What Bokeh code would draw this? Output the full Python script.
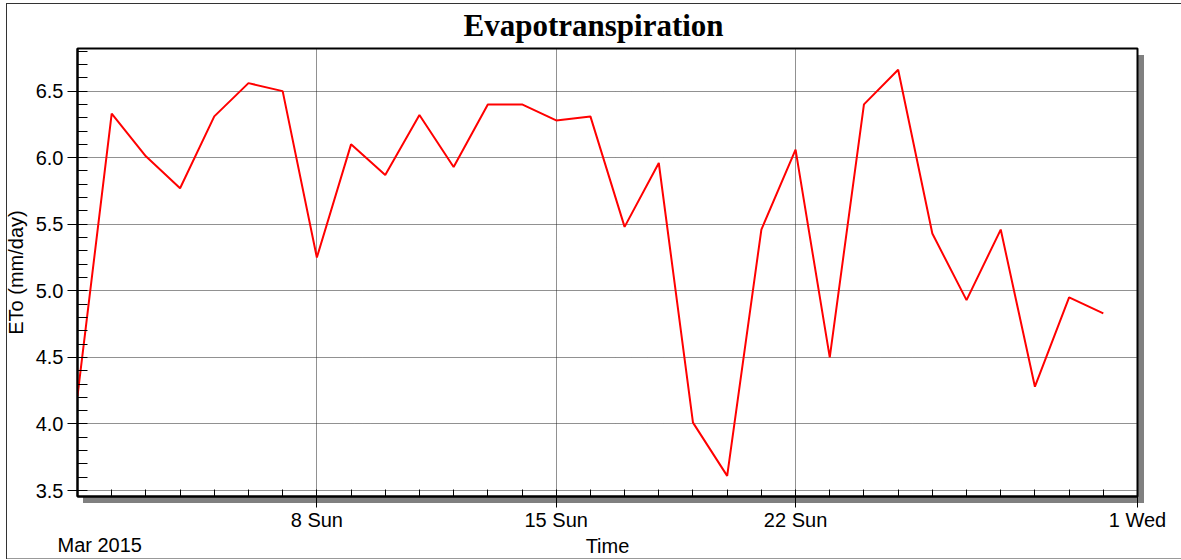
import pandas as pd
from bokeh.plotting import figure
from bokeh.models import (Range1d, FixedTicker, SingleIntervalTicker, Title,
                          ColumnDataSource, PrintfTickFormatter)
from bokeh.embed import file_html
from bokeh.resources import INLINE

# ---- data -------------------------------------------------------------
dates = pd.date_range("2015-03-01", "2015-03-31", freq="D")
eto = [4.21, 6.33, 6.01, 5.77, 6.31, 6.56, 6.50, 5.25, 6.10, 5.87,
       6.32, 5.93, 6.40, 6.40, 6.28, 6.31, 5.48, 5.96, 4.01, 3.61,
       5.46, 6.06, 4.50, 6.40, 6.66, 5.43, 4.93, 5.46, 4.28, 4.95, 4.83]

x_start, x_end = "2015-03-01", "2015-04-01"
major_tick_dates = ["2015-03-08", "2015-03-15", "2015-03-22", "2015-04-01"]
major_tick_labels = ["8 Sun", "15 Sun", "22 Sun", "1 Wed"]
minor_tick_dates = pd.date_range(x_start, x_end, freq="D")
y_start, y_end = 3.455, 6.82
title_text = "Evapotranspiration"
x_label = "Time"
y_label = "ETo (mm/day)"
period_label = "Mar 2015"


def ms(d):
    return pd.Timestamp(d).value / 1e6


# ---- figure -----------------------------------------------------------
W, H = 1181, 560
ML, MR, MT, MB = 77, 44, 48, 64

p = figure(width=W, height=H, x_axis_type="datetime",
           x_range=Range1d(ms(x_start), ms(x_end)),
           y_range=Range1d(y_start, y_end),
           output_backend="svg", toolbar_location=None,
           min_border_left=ML, min_border_right=MR,
           min_border_top=MT, min_border_bottom=MB)

# page frame lines and the drop shadow of the plot area (CSS backdrop)
layers = [
    ("#808080", "6px 448px", f"{W - MR + 1}px {MT + 7}px"),      # shadow right
    ("#808080", f"{W - ML - MR + 1}px 6px", f"{ML + 6}px {H - MB + 1}px"),  # shadow bottom
    ("#333333", "1px 556px", "6px 3px"),                          # outer left
    ("#333333", "1176px 1px", "6px 3px"),                          # outer top
    ("#999999", "1176px 1px", "6px 558px"),                        # outer bottom
]
p.styles = {
    "background-color": "white",
    "background-image": ", ".join(f"linear-gradient({c}, {c})" for c, _, _ in layers),
    "background-size": ", ".join(s for _, s, _ in layers),
    "background-position": ", ".join(pos for _, _, pos in layers),
    "background-repeat": "no-repeat",
}
p.border_fill_color = None
p.background_fill_color = "white"
p.outline_line_color = "black"
p.outline_line_width = 2

src = ColumnDataSource(dict(date=dates, eto=eto))
p.line("date", "eto", source=src, line_color="#ff0000", line_width=2)

# title
p.title.text = title_text
p.title.align = "left"
p.title.offset = 386
p.title.standoff = 11
p.title.text_font = "Liberation Serif"
p.title.text_font_style = "bold"
p.title.text_font_size = "31px"
p.title.text_color = "black"

# x axis
p.xaxis.ticker = FixedTicker(ticks=[ms(d) for d in major_tick_dates],
                             minor_ticks=[ms(d) for d in minor_tick_dates])
p.xaxis.major_label_overrides = {ms(d): l for d, l in zip(major_tick_dates, major_tick_labels)}
p.xaxis.major_tick_out = 11
p.xaxis.major_tick_in = 0
p.xaxis.minor_tick_in = 7
p.xaxis.minor_tick_out = 0
p.xaxis.major_label_standoff = 1
p.xaxis.axis_label = x_label
p.xaxis.axis_label_standoff = 1

# y axis
p.yaxis.ticker = SingleIntervalTicker(interval=0.5, num_minor_ticks=5)
p.yaxis.formatter = PrintfTickFormatter(format="%.1f")
p.yaxis.major_tick_out = 10
p.yaxis.major_tick_in = 0
p.yaxis.minor_tick_in = 10
p.yaxis.minor_tick_out = 0
p.yaxis.major_label_standoff = 4
p.yaxis.axis_label = y_label
p.yaxis.axis_label_standoff = 6

for ax in (p.xaxis, p.yaxis):
    ax.axis_line_color = "black"
    ax.axis_line_width = 2
    ax.major_tick_line_color = "black"
    ax.minor_tick_line_color = "black"
    ax.major_tick_line_width = 1
    ax.minor_tick_line_width = 1
    ax.major_label_text_font = "Liberation Sans"
    ax.major_label_text_font_size = "20px"
    ax.major_label_text_color = "black"
    ax.axis_label_text_font = "Liberation Sans"
    ax.axis_label_text_font_size = "20px"
    ax.axis_label_text_font_style = "normal"
    ax.axis_label_text_color = "black"

for g in (p.xgrid, p.ygrid):
    g.grid_line_color = "#222222"
    g.grid_line_dash = "1 1"
    g.grid_line_width = 1

# period label under the start of the time axis, on the row of the axis title
p.add_layout(Title(text=period_label, align="left", offset=-20, standoff=-52,
                   vertical_align="top",
                   text_font="Liberation Sans", text_font_style="normal",
                   text_font_size="20px", text_color="black"), "below")

open("out.html", "w").write(file_html(p, INLINE))
